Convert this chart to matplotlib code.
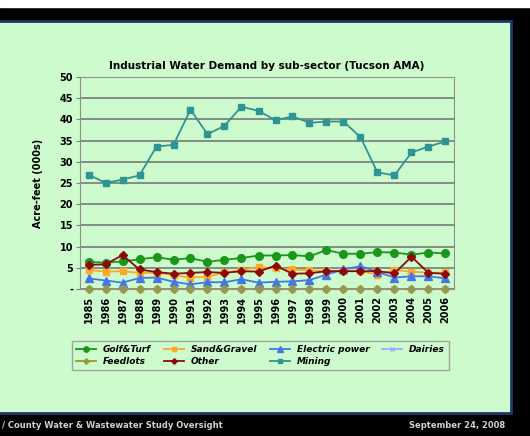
import matplotlib.pyplot as plt
from matplotlib.patches import Rectangle

# Industrial water demand by sub-sector, Tucson AMA (thousand acre-feet)
years = [str(y) for y in range(1985, 2007)]
golf_turf = [6.4, 6.2, 6.5, 7.0, 7.5, 6.9, 7.3, 6.4, 6.9, 7.3, 7.9,
             7.9, 8.0, 7.7, 9.2, 8.3, 8.3, 8.7, 8.6, 8.1, 8.6, 8.4]
sand_gravel = [4.5, 4.1, 4.2, 3.8, 3.8, 3.3, 2.7, 2.9, 3.9, 4.5, 5.2,
               4.9, 4.6, 4.4, 4.2, 4.3, 4.2, 3.4, 4.5, 4.1, 3.8, 3.9]
electric = [2.5, 2.0, 1.5, 2.6, 2.7, 1.7, 1.1, 1.6, 1.6, 2.3, 1.5,
            1.7, 1.8, 2.1, 3.4, 4.6, 5.4, 4.0, 2.7, 3.0, 3.0, 2.5]
dairies = [0.1] * 22
feedlots = [0.1] * 22
other = [5.7, 5.8, 8.0, 4.6, 4.0, 3.6, 3.8, 4.0, 3.8, 4.2, 4.1,
         5.5, 3.6, 3.7, 4.2, 4.2, 4.2, 4.2, 3.7, 7.6, 3.8, 3.6]
mining = [27.0, 25.0, 25.8, 26.8, 33.6, 34.0, 42.3, 36.5, 38.5, 43.0, 42.0,
          39.8, 40.7, 39.2, 39.5, 39.5, 35.8, 27.5, 26.8, 32.2, 33.6, 34.8]

bg = '#cdfbcd'
W, H = 530, 436
fig = plt.figure(figsize=(5.3, 4.36), dpi=100)
fig.patch.set_facecolor('black')

def frect(x0, y0, x1, y1, **kw):
    # rectangle in pixel coords measured from top-left
    fig.patches.append(Rectangle((x0 / W, 1 - y1 / H), (x1 - x0) / W, (y1 - y0) / H,
                                 transform=fig.transFigure, zorder=-5, **kw))

frect(0, 0, W, 7, color='white')
frect(-2, 21, 511, 413, facecolor=bg, edgecolor='#1a3a6a', linewidth=2)

ax = fig.add_axes([80 / W, 1 - 289 / H, 374 / W, 212 / H])
ax.set_facecolor(bg)
x = list(range(len(years)))

ax.plot(x, golf_turf, color='#1a961a', marker='o', ms=5.5, lw=1.3, label='Golf&Turf', clip_on=False)
ax.plot(x, sand_gravel, color='#ffa726', marker='s', ms=5, lw=1.3, label='Sand&Gravel', clip_on=False)
ax.plot(x, electric, color='#4477e6', marker='^', ms=5.5, lw=1.3, label='Electric power', clip_on=False)
ax.plot(x, dairies, color='#a0a8ff', marker='x', ms=4, lw=1.3, label='Dairies', clip_on=False)
ax.plot(x, feedlots, color='#9a9a30', marker='D', ms=4, lw=1.3, label='Feedlots', clip_on=False)
ax.plot(x, other, color='#8b0a0a', marker='D', ms=4, lw=1.3, label='Other', clip_on=False)
ax.plot(x, mining, color='#2e9494', marker='s', ms=5, lw=1.3, label='Mining', clip_on=False)

ax.set_xlim(-0.5, 21.5)
ax.set_ylim(0, 50)
ax.set_yticks(range(0, 51, 5))
ax.set_yticklabels(['-'] + [str(v) for v in range(5, 51, 5)], fontsize=7, fontweight='bold')
ax.set_xticks(x)
ax.set_xticklabels(years, rotation=90, fontsize=7, fontweight='bold')
ax.grid(axis='y', color='#707070', lw=1.1)
ax.set_axisbelow(True)
for s in ax.spines.values():
    s.set_color('#909090')
ax.tick_params(length=3, color='#808080', pad=2)

ax.set_title('Industrial Water Demand by sub-sector (Tucson AMA)', fontsize=7.5,
             fontweight='bold', pad=6)
ax.set_ylabel('Acre-feet (000s)', fontsize=7, fontweight='bold', labelpad=12)

handles, labels = ax.get_legend_handles_labels()
order = [0, 4, 1, 5, 2, 6, 3]
leg = fig.legend([handles[i] for i in order], [labels[i] for i in order],
                 ncol=4, loc='upper left',
                 bbox_to_anchor=(67 / W, 1 - 369 / H, 387 / W, 33 / H), mode='expand',
                 fontsize=6.5, frameon=True, fancybox=False, handlelength=2.2,
                 borderpad=0.5, labelspacing=0.3, markerscale=0.7)
leg.get_frame().set_facecolor(bg)
leg.get_frame().set_edgecolor('#909090')
for t in leg.get_texts():
    t.set_fontweight('bold')
    t.set_fontstyle('italic')

fig.text(2 / W, 1 - 425 / H, '/ County Water & Wastewater Study Oversight',
         color='#d0d0d0', fontsize=6, fontweight='bold', va='center')
fig.text(505 / W, 1 - 425 / H, 'September 24, 2008', color='#d0d0d0',
         fontsize=6, fontweight='bold', va='center', ha='right')

fig.savefig('out.png', dpi=100, facecolor=fig.get_facecolor())
